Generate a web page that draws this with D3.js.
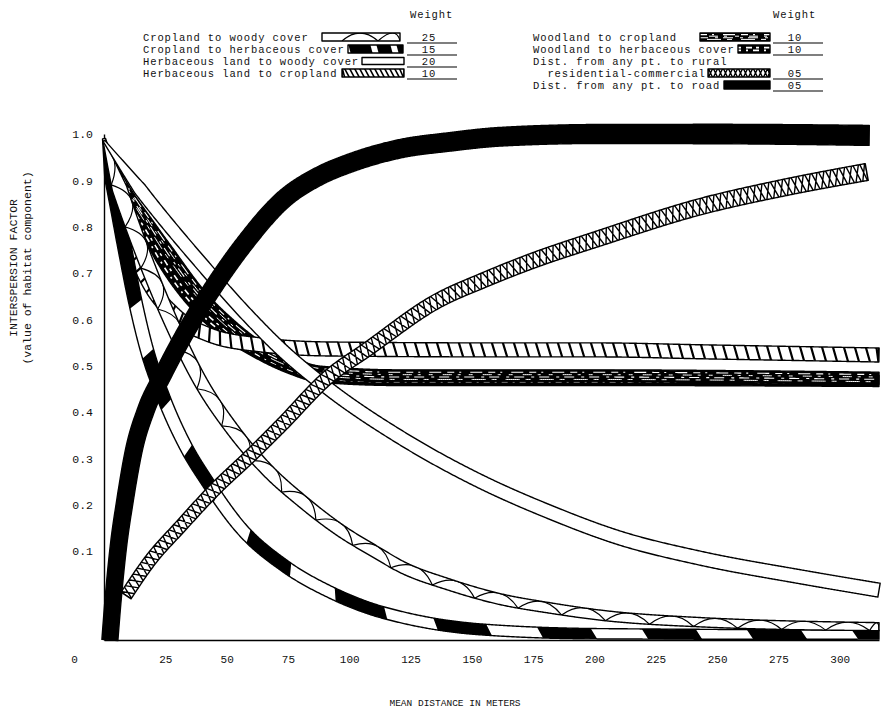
<!DOCTYPE html>
<html><head><meta charset="utf-8">
<script src="https://cdn.jsdelivr.net/npm/d3@7"></script>
<style>body{margin:0;background:#fff}svg{display:block}text{font-family:"Liberation Mono","DejaVu Sans Mono",monospace;fill:#111}</style>
</head><body>
<svg id="chart" width="895" height="710"></svg>
<script>
// ---------- data ----------
const seriesNames = ["Cropland to woody cover","Cropland to herbaceous cover","Herbaceous land to woody cover","Herbaceous land to cropland",
  "Woodland to cropland","Woodland to herbaceous cover","Dist. from any pt. to rural residential-commercial","Dist. from any pt. to road"];
const weights = ["25","15","20","10","10","10","05","05"];

const cwDist = [0, 8.6, 18.8, 29, 39, 52.6, 66.5, 81.1, 96.2, 111.3, 120.7, 141, 161.4, 181.8, 202.2, 243, 316];
const cwVal  = [0.985, 0.847, 0.702, 0.575, 0.469, 0.361, 0.275, 0.206, 0.145, 0.098, 0.083, 0.062, 0.046, 0.036, 0.028, 0.020, 0.015];

const chDist = [0, 4.5, 8.6, 12.6, 17.5, 24, 33, 42.2, 55.4, 73.8, 92.1, 110, 120.7, 153.3, 202.2, 316];
const chVal  = [0.99, 0.868, 0.75, 0.642, 0.534, 0.435, 0.329, 0.249, 0.152, 0.083, 0.054, 0.034, 0.026, 0.012, 0.007, 0.006];

const hwDist = [0, 18.8, 39.1, 59.5, 71.7, 92.1, 120.6, 152.4, 181.8, 210.3, 243, 284, 316];
const hwVal  = [0.985, 0.853, 0.724, 0.603, 0.538, 0.448, 0.346, 0.253, 0.184, 0.128, 0.092, 0.071, 0.056];

const hcDist = [0, 4.5, 10.6, 18.8, 29, 43.2, 63.6, 92.1, 161.4, 202.2, 243, 316];
const hcVal  = [0.985, 0.879, 0.771, 0.674, 0.609, 0.566, 0.545, 0.536, 0.534, 0.534, 0.530, 0.523];

const wcDist = [0, 8.6, 18.8, 29, 39.1, 51.4, 63.6, 75.8, 88.1, 120.6, 202.2, 263.4, 316];
const wcVal  = [0.985, 0.89, 0.804, 0.724, 0.653, 0.588, 0.538, 0.506, 0.486, 0.478, 0.478, 0.476, 0.473];

const whDist = [0, 8.6, 18.8, 29, 39.1, 51.4, 63.6, 75.8, 88.1, 120.6, 202.2, 316];
const whVal  = [0.985, 0.868, 0.771, 0.685, 0.620, 0.564, 0.525, 0.495, 0.476, 0.469, 0.469, 0.467];

const ruralDist = [9, 19, 31, 45, 60, 72, 92, 107, 136, 155, 174, 202, 243, 277, 311];
const ruralVal  = [0.05, 0.09, 0.152, 0.232, 0.307, 0.37, 0.478, 0.534, 0.64, 0.685, 0.725, 0.775, 0.843, 0.884, 0.918];

const roadDist = [2.4, 3.7, 5.7, 8.6, 12.2, 17.1, 24, 35, 45.2, 57.5, 73, 88, 100.2, 120.6, 141, 161.4, 202.2, 243, 312];
const roadVal  = [0, 0.045, 0.102, 0.21, 0.318, 0.404, 0.48, 0.588, 0.674, 0.765, 0.858, 0.91, 0.937, 0.968, 0.983, 0.994, 1.0, 1.0, 0.997];

const yTickValues = [1.0, 0.9, 0.8, 0.7, 0.6, 0.5, 0.4, 0.3, 0.2, 0.1];
const yTickLabels = ["1.0","0.9","0.8","0.7","0.6","0.5","0.4","0.3","0.2","0.1"];
const xTickValues = [0, 25, 50, 75, 100, 125, 150, 175, 200, 225, 250, 275, 300];
const xTickLabels = ["0","25","50","75","100","125","150","175","200","225","250","275","300"];

// ---------- scales ----------
const svg = d3.select("#chart");
const x = d3.scaleLinear().domain([0, 316]).range([104, 879]);
const y = d3.scaleLinear().domain([0, 0.1, 1]).range([640, 551, 134]);

// ---------- band renderer ----------
let uidCounter = 0;
function drawBand(parent, pts, st) {
  const uid = "b" + (uidCounter++);
  const lineGen = d3.line().curve(d3.curveMonotoneX);
  const tmp = parent.append("path").attr("d", lineGen(pts)).attr("fill", "none");
  const node = tmp.node();
  const L = node.getTotalLength();
  const n = Math.max(4, Math.ceil(L));
  const raw = d3.range(n + 1).map(i => { const p = node.getPointAtLength(L * i / n); return [p.x, p.y]; });
  tmp.remove();
  const S = raw.map((p, i) => {
    const a = raw[Math.max(0, i - 2)], b = raw[Math.min(n, i + 2)];
    let tx = b[0] - a[0], ty = b[1] - a[1]; const m = Math.hypot(tx, ty) || 1; tx /= m; ty /= m;
    return {x: p[0], y: p[1], nx: -ty, ny: tx, s: L * i / n};
  });
  const wAt = s => s < st.taper ? st.w0 + (st.w - st.w0) * s / st.taper
                                 : st.w + (st.wEnd - st.w) * (s - st.taper) / Math.max(1, L - st.taper);
  const at = (s, k) => {
    s = Math.max(0, Math.min(L, s));
    const t = s / L * n; const i = Math.min(n - 1, Math.floor(t)); const f = t - i;
    const a = S[i], b = S[i + 1];
    const px = a.x + (b.x - a.x) * f, py = a.y + (b.y - a.y) * f;
    const nx = a.nx + (b.nx - a.nx) * f, ny = a.ny + (b.ny - a.ny) * f;
    const h = wAt(s) / 2 * k;
    return [px + nx * h, py + ny * h];
  };
  const P = p => p[0].toFixed(2) + "," + p[1].toFixed(2);
  const poly = arr => "M" + arr.map(P).join("L");
  const up = S.map(p => at(p.s, -1)), lo = S.map(p => at(p.s, 1)).reverse();
  const polyD = poly(up.concat(lo)) + "Z";
  parent.append("clipPath").attr("id", "clip-" + uid).append("path").attr("d", polyD);
  const g = parent.append("g");
  const dark = ["solid", "streak", "stripe"].includes(st.type);
  g.append("path").attr("d", polyD).attr("fill", dark ? "#000" : "#fff");
  const deco = g.append("g").attr("clip-path", `url(#clip-${uid})`);
  const along = (k, step) => { const arr = []; for (let s = 0; s <= L; s += step) arr.push(at(s, k)); arr.push(at(L, k)); return poly(arr); };
  if (st.type === "cross") {
    let d = "";
    for (let s = -st.step; s < L + st.step; s += st.step) d += poly([at(s, -1.3), at(s + st.step, 1.3)]) + poly([at(s, 1.3), at(s + st.step, -1.3)]);
    deco.append("path").attr("d", d).attr("fill", "none").attr("stroke", "#000").attr("stroke-width", 1.4);
  } else if (st.type === "hatch") {
    let d = "";
    for (let s = -st.step; s < L + st.step; s += st.step) d += poly([at(s - 3, -1.4), at(s + 3, 1.4)]);
    deco.append("path").attr("d", d).attr("fill", "none").attr("stroke", "#000").attr("stroke-width", st.lw || 2);
  } else if (st.type === "scallop") {
    let d = "";
    for (let s = st.phase || 0; s < L; s += st.step)
      d += "M" + P(at(s, 1)) + "Q" + P(at(s + st.step / 2, -3)) + " " + P(at(s + st.step, 1));
    deco.append("path").attr("d", d).attr("fill", "none").attr("stroke", "#000").attr("stroke-width", 1.2);
  } else if (st.type === "dash") {
    const segs = [[0, st.dashes[0]]];
    let s = st.dashes[0] + st.dashes[1];
    while (s < L) { segs.push([s, s + st.dashes[2]]); s += st.dashes[2] + st.dashes[1]; }
    segs.forEach(([a, b]) => {
      const top = [], bot = [];
      for (let t = a; t <= b; t += 2) top.push(at(t, -1.4));
      for (let t = b; t >= a; t -= 2) bot.push(at(t + st.skew, 1.4));
      deco.append("path").attr("d", poly(top.concat(bot)) + "Z").attr("fill", "#000");
    });
  } else if (st.type === "streak" || st.type === "stripe") {
    st.lines.forEach(ln => {
      deco.append("path").attr("d", along(ln.k, 2)).attr("fill", "none").attr("stroke", "#fff")
        .attr("stroke-width", ln.lw).attr("stroke-dasharray", ln.dash).attr("stroke-dashoffset", ln.off || 0);
    });
  }
  g.append("path").attr("d", polyD).attr("fill", "none").attr("stroke", "#000").attr("stroke-width", 1.4).attr("stroke-linejoin", "round");
}

// ---------- styles ----------
const streakLines = [
  {k: -0.6, lw: 1.1, dash: "7 5 2 9 12 6", off: 0},
  {k: -0.2, lw: 1.0, dash: "4 10 9 6 3 8", off: 5},
  {k: 0.2, lw: 1.1, dash: "10 7 3 5", off: 2},
  {k: 0.6, lw: 1.0, dash: "5 9 14 6", off: 7}];
const stripeLines = [
  {k: -0.35, lw: 1.6, dash: "3 5 6 4", off: 0},
  {k: 0.35, lw: 1.6, dash: "6 5 2 5", off: 3}];
const styles = {
  cw:    {type: "scallop", w: 15, w0: 2, taper: 50, wEnd: 8, step: 44},
  ch:    {type: "dash", w: 14, w0: 3, taper: 40, wEnd: 9, dashes: [165, 50, 55], skew: 8},
  hw:    {type: "plain", w: 13, w0: 2, taper: 60, wEnd: 14},
  hc:    {type: "hatch", w: 14, w0: 2, taper: 90, wEnd: 14, step: 11, lw: 2.2},
  wc:    {type: "streak", w: 12, w0: 1.5, taper: 130, wEnd: 12, lines: streakLines},
  wh:    {type: "stripe", w: 11, w0: 1.5, taper: 130, wEnd: 11, lines: stripeLines},
  rural: {type: "cross", w: 12, w0: 12, taper: 1, wEnd: 17, step: 7},
  road:  {type: "solid", w: 16, w0: 16, taper: 1, wEnd: 20}
};

// ---------- axes ----------
const yAxis = svg.append("g").attr("transform", "translate(104,0)")
  .call(d3.axisLeft(y).tickValues(yTickValues).tickFormat((d, i) => yTickLabels[i]).tickSize(0).tickPadding(11));
yAxis.select(".domain").attr("stroke", "#000").attr("stroke-width", 1.4);
yAxis.selectAll("text").style("font-family", "Liberation Mono").style("font-size", "11.5px").attr("fill", "#111");

const xAxis = svg.append("g").attr("transform", "translate(0,640)")
  .call(d3.axisBottom(x).tickValues(xTickValues).tickFormat((d, i) => xTickLabels[i]).tickSize(0).tickPadding(15));
xAxis.select(".domain").attr("stroke", "#000").attr("stroke-width", 1.4);
xAxis.selectAll("text").style("font-family", "Liberation Mono").style("font-size", "11px").attr("fill", "#111")
  .attr("dx", d => d === 0 ? -30 : 0);

svg.append("text").attr("x", 455).attr("y", 706).attr("text-anchor", "middle")
  .style("font-size", "9.5px").text("MEAN DISTANCE IN METERS");
svg.append("text").attr("transform", "translate(17,268) rotate(-90)").attr("text-anchor", "middle")
  .style("font-size", "11.5px").text("INTERSPERSION FACTOR");
svg.append("text").attr("transform", "translate(31,268) rotate(-90)").attr("text-anchor", "middle")
  .style("font-size", "11.5px").text("(value of habitat component)");

// ---------- curves ----------
const plot = svg.append("g");
const pts = (ds, vs) => ds.map((d, i) => [x(d), y(vs[i])]);
drawBand(plot, pts(whDist, whVal), styles.wh);
drawBand(plot, pts(wcDist, wcVal), styles.wc);
drawBand(plot, pts(hcDist, hcVal), styles.hc);
drawBand(plot, pts(chDist, chVal), styles.ch);
drawBand(plot, pts(cwDist, cwVal), styles.cw);
drawBand(plot, pts(hwDist, hwVal), styles.hw);
drawBand(plot, pts(ruralDist, ruralVal), styles.rural);
drawBand(plot, pts(roadDist, roadVal), styles.road);

// ---------- legend ----------
const leg = svg.append("g");
const legFont = "10.5px", legSpacing = "0.9px";
const legendLeft = [
  {text: seriesNames[0], key: "cw", w: weights[0], y: 37, sx: [322, 400]},
  {text: seriesNames[1], key: "ch", w: weights[1], y: 49, sx: [348, 403]},
  {text: seriesNames[2], key: "hw", w: weights[2], y: 61, sx: [362, 404]},
  {text: seriesNames[3], key: "hc", w: weights[3], y: 73, sx: [342, 404]}];
const legendRight = [
  {text: seriesNames[4], key: "wc", w: weights[4], y: 37, sx: [700, 770]},
  {text: seriesNames[5], key: "wh", w: weights[5], y: 49, sx: [738, 770]},
  {text: "Dist. from any pt. to rural", key: null, w: null, y: 61},
  {text: "  residential-commercial", key: "rural", w: weights[6], y: 73, sx: [708, 770]},
  {text: seriesNames[7], key: "road", w: weights[7], y: 85, sx: [724, 770]}];
const swatchStyles = {
  cw: {type: "scallop", w: 8, w0: 8, taper: 1, wEnd: 8, step: 36, phase: 20},
  ch: {type: "dash", w: 8, w0: 8, taper: 1, wEnd: 8, dashes: [22, 6, 14], skew: 3},
  hw: {type: "plain", w: 7, w0: 7, taper: 1, wEnd: 7},
  hc: {type: "hatch", w: 8, w0: 8, taper: 1, wEnd: 8, step: 5, lw: 1.6},
  wc: {type: "streak", w: 8, w0: 8, taper: 1, wEnd: 8, lines: streakLines},
  wh: {type: "stripe", w: 8, w0: 8, taper: 1, wEnd: 8, lines: stripeLines},
  rural: {type: "cross", w: 8, w0: 8, taper: 1, wEnd: 8, step: 5},
  road: {type: "solid", w: 8, w0: 8, taper: 1, wEnd: 8}
};
function legendBlock(rows, tx, wx, headerX) {
  leg.append("text").attr("x", headerX).attr("y", 18).style("font-size", legFont).style("letter-spacing", legSpacing).text("Weight");
  rows.forEach(r => {
    leg.append("text").attr("x", tx).attr("y", r.y + 4).style("font-size", legFont).style("letter-spacing", legSpacing)
      .style("white-space", "pre").attr("xml:space", "preserve").text(r.text);
    if (r.key) drawBand(leg, [[r.sx[0], r.y], [r.sx[1], r.y]], swatchStyles[r.key]);
    if (r.w) {
      leg.append("text").attr("x", wx + 22).attr("y", r.y + 4).attr("text-anchor", "middle")
        .style("font-size", legFont).style("letter-spacing", legSpacing).text(r.w);
      leg.append("line").attr("x1", wx).attr("x2", wx + 50).attr("y1", r.y + 6).attr("y2", r.y + 6)
        .attr("stroke", "#000").attr("stroke-width", 1.2);
    }
  });
}
legendBlock(legendLeft, 143, 407, 410);
legendBlock(legendRight, 533, 773, 773);
</script>
</body></html>
